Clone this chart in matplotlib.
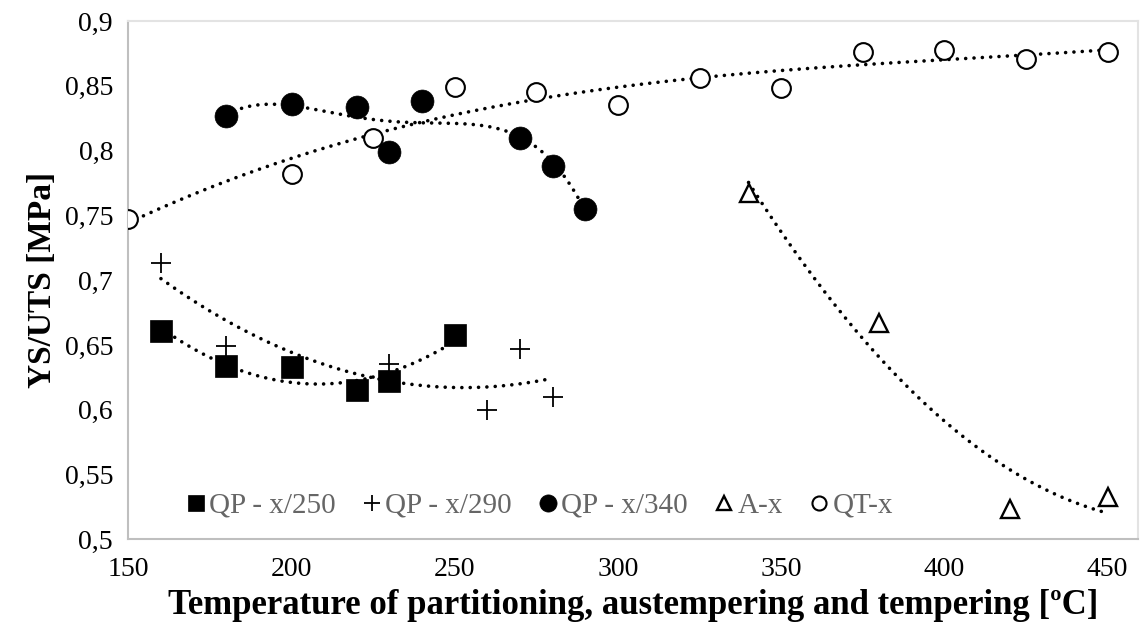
import numpy as np
import matplotlib
matplotlib.use("Agg")
import matplotlib.pyplot as plt
from matplotlib.ticker import FuncFormatter, MultipleLocator

plt.rcParams['font.family'] = ['Liberation Serif', 'DejaVu Serif']

# data
x_250 = [160, 180, 200, 220, 230, 250]
y_250 = [0.661, 0.634, 0.633, 0.615, 0.622, 0.658]

x_290 = [160, 180, 230, 260, 270, 280]
y_290 = [0.713, 0.649, 0.635, 0.600, 0.647, 0.610]

x_340 = [180, 200, 220, 230, 240, 270, 280, 290]
y_340 = [0.827, 0.836, 0.834, 0.799, 0.838, 0.810, 0.788, 0.755]

x_a = [340, 380, 420, 450]
y_a = [0.767, 0.667, 0.523, 0.533]

x_qt = [150, 200, 225, 250, 275, 300, 325, 350, 375, 400, 425, 450]
y_qt = [0.747, 0.782, 0.810, 0.849, 0.845, 0.835, 0.856, 0.848, 0.876, 0.878, 0.871, 0.876]

labels = ['QP - x/250', 'QP - x/290', 'QP - x/340', 'A-x', 'QT-x']
trend_order = [2, 2, 4, 2, 3]

fig = plt.figure(figsize=(11.4, 6.34), dpi=100)
ax = fig.add_axes([128.3 / 1140, 1 - 539.3 / 634, (1138 - 128.3) / 1140, (539.3 - 21) / 634])

series = [(x_250, y_250), (x_290, y_290), (x_340, y_340), (x_a, y_a), (x_qt, y_qt)]
styles = [
    dict(marker='s', ms=15.5, mfc='black', mec='black', mew=0.5),
    dict(marker='+', ms=15, mfc='black', mec='black', mew=1.3),
    dict(marker='o', ms=16.5, mfc='black', mec='black', mew=0.5),
    dict(marker='^', ms=13.5, mfc='white', mec='black', mew=1.7),
    dict(marker='o', ms=13.5, mfc='white', mec='black', mew=1.5),
]

handles = []
for (xs, ys), st, lab, deg in zip(series, styles, labels, trend_order):
    h, = ax.plot(xs, ys, linestyle='none', label=lab, zorder=3, **st)
    handles.append(h)
    # excel-like polynomial trendline
    coef = np.polyfit(xs, ys, deg)
    xx = np.linspace(min(xs), max(xs), 200)
    ax.plot(xx, np.polyval(coef, xx), color='black', lw=2.6,
            linestyle=(0, (0.01, 2.3)), dash_capstyle='round', zorder=2)

ax.set_xlim(150, 459.3)
ax.set_ylim(0.5, 0.9)
ax.xaxis.set_major_locator(MultipleLocator(50))
ax.yaxis.set_major_locator(MultipleLocator(0.05))
ax.yaxis.set_major_formatter(FuncFormatter(lambda v, p: ('%g' % round(v, 2)).replace('.', ',')))
ax.tick_params(length=0, labelsize=20, colors='black')
ax.tick_params(axis='x', pad=13)
ax.tick_params(axis='y', pad=11)

for s in ['left', 'bottom']:
    ax.spines[s].set_color('#bfbfbf')
    ax.spines[s].set_linewidth(1.5)
for s in ['top', 'right']:
    ax.spines[s].set_color('#e3e3e3')
    ax.spines[s].set_linewidth(1.5)

ax.set_xlabel('Temperature of partitioning, austempering and tempering [ºC]',
              fontsize=25, fontweight='bold', labelpad=5)
ax.set_ylabel('YS/UTS [MPa]', fontsize=24, fontweight='bold', labelpad=5)

leg = ax.legend(handles=handles, ncol=5, loc='center left', bbox_to_anchor=(0.032, 0.065),
                frameon=False, fontsize=21, handlelength=0.6, handletextpad=0.15,
                columnspacing=0.95, markerscale=0.75)
for t in leg.get_texts():
    t.set_color('#666666')

fig.savefig('out.png', dpi=100)
